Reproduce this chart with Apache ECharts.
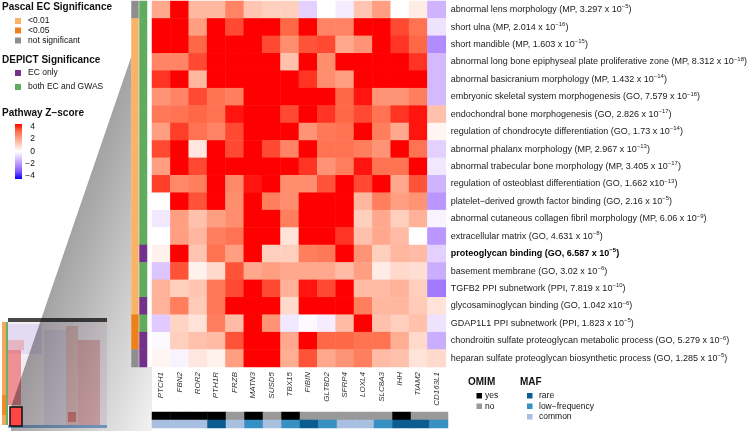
<!DOCTYPE html>
<html><head><meta charset="utf-8">
<script src="https://cdn.jsdelivr.net/npm/echarts@6/dist/echarts.min.js"></script>
<style>html,body{margin:0;padding:0;background:#fff}#c{width:750px;height:431px}</style>
</head><body><div id="c"></div>
<script>
// ---------------- data ----------------
const genes = ['PTCH1','FBN2','ROR2','PTH1R','FRZB','MATN3','SUSD5','TBX15','FIBIN','GLT8D2','SFRP4','LOXL4','SLC8A3','IHH','TIAM2','CD163L1'];

const termTexts = [
  'abnormal lens morphology (MP, 3.297 x 10',
  'short ulna (MP, 2.014 x 10',
  'short mandible (MP, 1.603 x 10',
  'abnormal long bone epiphyseal plate proliferative zone (MP, 8.312 x 10',
  'abnormal basicranium morphology (MP, 1.432 x 10',
  'embryonic skeletal system morphogenesis (GO, 7.579 x 10',
  'endochondral bone morphogenesis (GO, 2.826 x 10',
  'regulation of chondrocyte differentiation (GO, 1.73 x 10',
  'abnormal phalanx morphology (MP, 2.967 x 10',
  'abnormal trabecular bone morphology (MP, 3.405 x 10',
  'regulation of osteoblast differentiation (GO, 1.662 x10',
  'platelet\u2212derived growth factor binding (GO, 2.16 x 10',
  'abnormal cutaneous collagen fibril morphology (MP, 6.06 x 10',
  'extracellular matrix (GO, 4.631 x 10',
  'proteoglycan binding (GO, 6.587 x 10',
  'basement membrane (GO, 3.02 x 10',
  'TGFB2 PPI subnetwork (PPI, 7.819 x 10',
  'glycosaminoglycan binding (GO, 1.042 x10',
  'GDAP1L1 PPI subnetwork (PPI, 1.823 x 10',
  'chondroitin sulfate proteoglycan metabolic process (GO, 5.279 x 10',
  'heparan sulfate proteoglycan biosynthetic process (GO, 1.285 x 10'
];
const termExps = ['\u22125','\u221216','\u221215','\u221218','\u221214','\u221216','\u221217','\u221214','\u221213','\u221217','\u221213','\u22125','\u22129','\u22128','\u22125','\u22126','\u221210','\u22126','\u22125','\u22126','\u22125'];
const boldRow = 14;

// z-scores, one array per pathway row, columns in gene order
const zRows = [
  [1.8, 4, 1.5, 1.5, 2.5, 1.2, 1.0, 1.0, -0.8, 0, -0.3, 1.2, 2.0, 0, 0.4, -1.3],
  [4, 4, 2.0, 4, 3.3, 4, 4, 3.0, 4, 2.5, 2.5, 4, 4, 3.3, 2.8, -0.5],
  [4, 4, 3.0, 4, 4, 4, 3.3, 2.3, 3.2, 3.3, 1.8, 2.2, 4, 3.5, 3.0, -2.0],
  [2.5, 2.5, 3.3, 4, 4, 4, 4, 1.3, 4, 2.3, 4, 4, 4, 4, 3.5, -1.2],
  [3.5, 4, 1.5, 4, 4, 4, 4, 4, 3.5, 2.3, 2.0, 4, 4, 4, 4, -1.2],
  [2.2, 2.5, 3.3, 2.8, 2.6, 4, 4, 4, 4, 4, 3.0, 3.8, 2.2, 2.2, 2.6, -1.2],
  [2.7, 2.8, 3.0, 2.8, 3.8, 4, 4, 3.3, 4, 3.5, 3.0, 3.3, 2.8, 3.5, 3.8, 1.3],
  [2.0, 3.4, 2.8, 2.5, 3.3, 4, 4, 4, 2.2, 2.7, 2.8, 4, 2.6, 1.8, 3.8, 0.2],
  [3.3, 4, 0.5, 4, 3.3, 4, 3.3, 2.5, 4, 2.8, 2.8, 2.6, 2.2, 4, 2.8, -0.8],
  [2.0, 4, 3.3, 4, 4, 4, 4, 4, 3.5, 2.2, 2.6, 3.8, 2.8, 2.8, 4, -0.4],
  [3.4, 2.4, 2.6, 4, 2.4, 3.8, 4, 2.3, 2.3, 3.2, 4, 3.3, 4, 1.8, 3.2, -1.3],
  [0, 4, 3.2, 4, 2.3, 4, 2.6, 2.3, 4, 4, 4, 1.5, 2.6, 2.0, 2.2, -1.8],
  [-0.4, 2.0, 1.3, 2.0, 2.3, 4, 4, 2.6, 4, 4, 4, 1.0, 1.8, 1.0, 1.6, -0.2],
  [0, 2.0, 1.5, 2.6, 2.8, 4, 4, 0.6, 4, 4, 3.5, 1.3, 1.8, 1.4, 0, -1.8],
  [0.3, 4, 1.2, 2.8, 2.0, 4, 1.0, 1.0, 2.6, 2.7, 4, 2.2, 1.0, 1.5, 1.4, -0.8],
  [-1.0, 3.2, 0.3, 0.8, 3.2, 1.8, 2.0, 1.8, 1.8, 1.8, 1.4, 2.0, 0.4, 0.8, 0.7, -1.4],
  [1.6, 1.0, 1.2, 2.7, 3.3, 4, 3.3, 1.6, 3.8, 3.3, 4, 1.4, 1.4, 1.6, 1.0, -2.3],
  [1.6, 2.6, 1.1, 2.7, 4, 4, 4, 0.8, 4, 4, 4, 2.6, 1.5, 1.5, 1.1, 0.6],
  [-0.9, 0.9, 0.6, 2.6, 1.4, 4, 2.2, -0.4, -0.1, -0.3, 1.4, 4, 1.3, 1.0, 1.3, -0.5],
  [-0.1, 1.0, 1.3, 1.4, 3.2, 4, 4, 1.8, 4, 3.0, 3.0, 2.8, 2.8, 1.7, 0.8, -1.4],
  [0.2, -0.2, 0.5, 0.3, 2.0, 4, 4, 1.7, 3.2, 1.8, 2.2, 2.6, 1.4, 1.3, 0.6, 0.8]
];

const pascalSig = ['ns','p01','p01','p01','p01','p01','p01','p01','p01','p01','p01','p01','p01','p01','p01','p01','p01','p01','p05','p05','ns'];
const depictSig = ['both','both','both','both','both','both','both','both','both','both','both','both','both','both','ec','both','both','ec','both','ec','ec'];
const omimStatus = ['yes','yes','yes','yes','no','yes','no','yes','no','no','no','no','no','yes','no','no'];
const mafClass = ['common','common','common','rare','common','low','common','low','rare','low','common','common','low','rare','rare','low'];

const zTicks = ['4','2','0','\u22122','\u22124'];

// ---------------- styles ----------------
const FONT = '"Liberation Sans", Arial, sans-serif';
const annColors = {
  p01: '#F8B366', p05: '#EE7F1B', ns: '#8E8E8E',
  ec: '#74308A', both: '#61AB5E',
  yes: '#000000', no: '#999999',
  rare: '#0B5C8F', low: '#3790C3', common: '#A8BFDF'
};
const annKeys = Object.keys(annColors);
const code = k => annKeys.indexOf(k) + 1;
const zColors = ['#0000FF','#7E51FF','#B28BFF','#DCC4FF','#FFFFFF','#FFCFBE','#FF9E81','#FF6846','#FF0000'];

const mainData = [];
zRows.forEach((row, i) => row.forEach((v, j) => mainData.push([j, i, v])));
const pascalData = pascalSig.map((k, i) => [0, i, code(k)]);
const depictData = depictSig.map((k, i) => [0, i, code(k)]);
const geneAnnData = [];
omimStatus.forEach((k, j) => geneAnnData.push([j, 0, code(k)]));
mafClass.forEach((k, j) => geneAnnData.push([j, 1, code(k)]));

const hidden = {show:false};
const catAxis = (data, extra) => Object.assign({type:'category', data, axisLine:hidden, axisTick:hidden, axisLabel:hidden, splitLine:hidden}, extra||{});

// ---------------- graphics (legends / overview inset) ----------------
const G = [];
function txt(x, y, text, size, bold, align) {
  G.push({type:'text', z:10, style:{x, y, text, fill:'#111', font:(bold?'bold ':'')+size+'px '+FONT, align:align||'left', verticalAlign:'middle'}});
}
function sq(x, y, s, color) {
  G.push({type:'rect', z:10, shape:{x, y, width:s, height:s}, style:{fill:color}});
}
function trect(x, y, w, h, fill) {
  G.push({type:'rect', z:-3, shape:{x, y, width:w, height:h}, style:{fill}});
}
// overview thumbnail (decorative miniature of the full heatmap)
trect(8, 322, 99, 103, '#F4ECF3');
trect(8, 324, 34, 30, 'rgba(190,180,240,0.30)');
trect(8, 340, 16, 10, 'rgba(235,110,110,0.35)');
trect(8, 350, 13, 55, 'rgba(235,70,70,0.55)');
trect(44, 330, 22, 95, 'rgba(170,165,225,0.20)');
trect(66, 326, 12, 99, 'rgba(215,110,100,0.30)');
trect(78, 340, 22, 85, 'rgba(210,90,85,0.35)');
trect(68, 412, 8, 10, 'rgba(210,60,60,0.5)');
trect(2, 322, 4, 103, '#F0A85C');
trect(2, 395, 4, 20, '#EE8A2A');
trect(6, 322, 2, 103, '#6BAE6B');
trect(8, 318, 99, 4, '#4A4A4A');
trect(8, 425, 99, 3, '#86AEDA');
// zoom wedge
G.push({type:'polygon', z:-2, shape:{points:[[11,407],[131.5,56],[131.5,367],[152,367],[152,431],[11,431]]},
  style:{fill:{type:'linear', x:82, y:200, x2:214, y2:245, global:true,
    colorStops:[{offset:0,color:'rgba(0,0,0,0.36)'},{offset:1,color:'rgba(0,0,0,0.05)'}]}}});
G.push({type:'rect', z:-1, shape:{x:10,y:407,width:12,height:19}, style:{fill:'#FF4545', stroke:'#111', lineWidth:1.5}});

// left legends
txt(2, 7, 'Pascal EC Significance', 10, true);
[['p01','<0.01',21],['p05','<0.05',30.5],['ns','not significant',40.5]].forEach(([k,t,y]) => { sq(15, y-3, 6, annColors[k]); txt(28, y, t, 8.5); });
txt(2, 60, 'DEPICT Significance', 10, true);
[['ec','EC only',73],['both','both EC and GWAS',87]].forEach(([k,t,y]) => { sq(15, y-3, 6, annColors[k]); txt(28, y, t, 8.5); });
txt(2, 113, 'Pathway Z\u2212score', 10, true);
G.push({type:'rect', z:10, shape:{x:15,y:124,width:7,height:55},
  style:{fill:{type:'linear', x:0, y:0, x2:0, y2:1, colorStops: zColors.slice().reverse().map((c,i)=>({offset:i/(zColors.length-1), color:c}))}}});
zTicks.forEach((t, i) => txt(35, 127 + i*12.1, t, 8.5, false, 'right'));

// bottom right legends
txt(468, 382, 'OMIM', 10, true);
[['yes','yes',396],['no','no',406.5]].forEach(([k,t,y]) => { sq(476.5, y-3, 5.5, annColors[k]); txt(485, y, t, 8.5); });
txt(520, 382, 'MAF', 10, true);
[['rare','rare',396],['low','low\u2212frequency',406.5],['common','common',417]].forEach(([k,t,y]) => { sq(527, y-3, 5.5, annColors[k]); txt(539, y, t, 8.5); });

// ---------------- chart ----------------
const chart = echarts.init(document.getElementById('c'), null, {renderer:'canvas'});
const option = {
  animation: false,
  backgroundColor: '#fff',
  textStyle: {fontFamily: FONT},
  grid: [
    {left:152, top:1, width:296, height:366},
    {left:131.5, top:1, width:7, height:366},
    {left:139.5, top:1, width:7.5, height:366},
    {left:152, top:412, width:296, height:16}
  ],
  xAxis: [
    catAxis(genes, {gridIndex:0, position:'bottom', axisLabel:{show:true, rotate:90, fontSize:8, fontStyle:'italic', color:'#333', margin:5, interval:0, fontFamily:FONT}}),
    catAxis(['Pascal'], {gridIndex:1}),
    catAxis(['DEPICT'], {gridIndex:2}),
    catAxis(genes, {gridIndex:3})
  ],
  yAxis: [
    catAxis(termTexts, {gridIndex:0, inverse:true, position:'right',
      axisLabel:{show:true, interval:0, margin:5, fontFamily:FONT,
        formatter:(v, i) => { const s = i === boldRow ? 'b' : 'n'; return '{'+s+'|'+v+'}{'+s+'s|'+termExps[i]+'}{'+s+'|)}'; },
        rich:{
          n:{fontSize:9, color:'#1a1a1a', lineHeight:12, fontFamily:FONT},
          ns:{fontSize:6, color:'#1a1a1a', lineHeight:6, verticalAlign:'top', fontFamily:FONT},
          b:{fontSize:9, color:'#000', fontWeight:'bold', lineHeight:12, fontFamily:FONT},
          bs:{fontSize:6, color:'#000', fontWeight:'bold', lineHeight:6, verticalAlign:'top', fontFamily:FONT}
        }}}),
    catAxis(termTexts, {gridIndex:1, inverse:true}),
    catAxis(termTexts, {gridIndex:2, inverse:true}),
    catAxis(['OMIM','MAF'], {gridIndex:3, inverse:true})
  ],
  visualMap: [
    {type:'continuous', min:-4, max:4, seriesIndex:0, show:false, inRange:{color:zColors}},
    {type:'piecewise', seriesIndex:[1,2,3], show:false,
      pieces: annKeys.map(k => ({value: code(k), color: annColors[k]}))}
  ],
  series: [
    {type:'heatmap', xAxisIndex:0, yAxisIndex:0, data:mainData, z:5, progressive:0, itemStyle:{borderWidth:0}, emphasis:{disabled:true}},
    {type:'heatmap', xAxisIndex:1, yAxisIndex:1, data:pascalData, z:5, itemStyle:{borderWidth:0}, emphasis:{disabled:true}},
    {type:'heatmap', xAxisIndex:2, yAxisIndex:2, data:depictData, z:5, itemStyle:{borderWidth:0}, emphasis:{disabled:true}},
    {type:'heatmap', xAxisIndex:3, yAxisIndex:3, data:geneAnnData, z:5, itemStyle:{borderWidth:0}, emphasis:{disabled:true}}
  ],
  graphic: {elements: G}
};
chart.setOption(option);
</script>
</body></html>
